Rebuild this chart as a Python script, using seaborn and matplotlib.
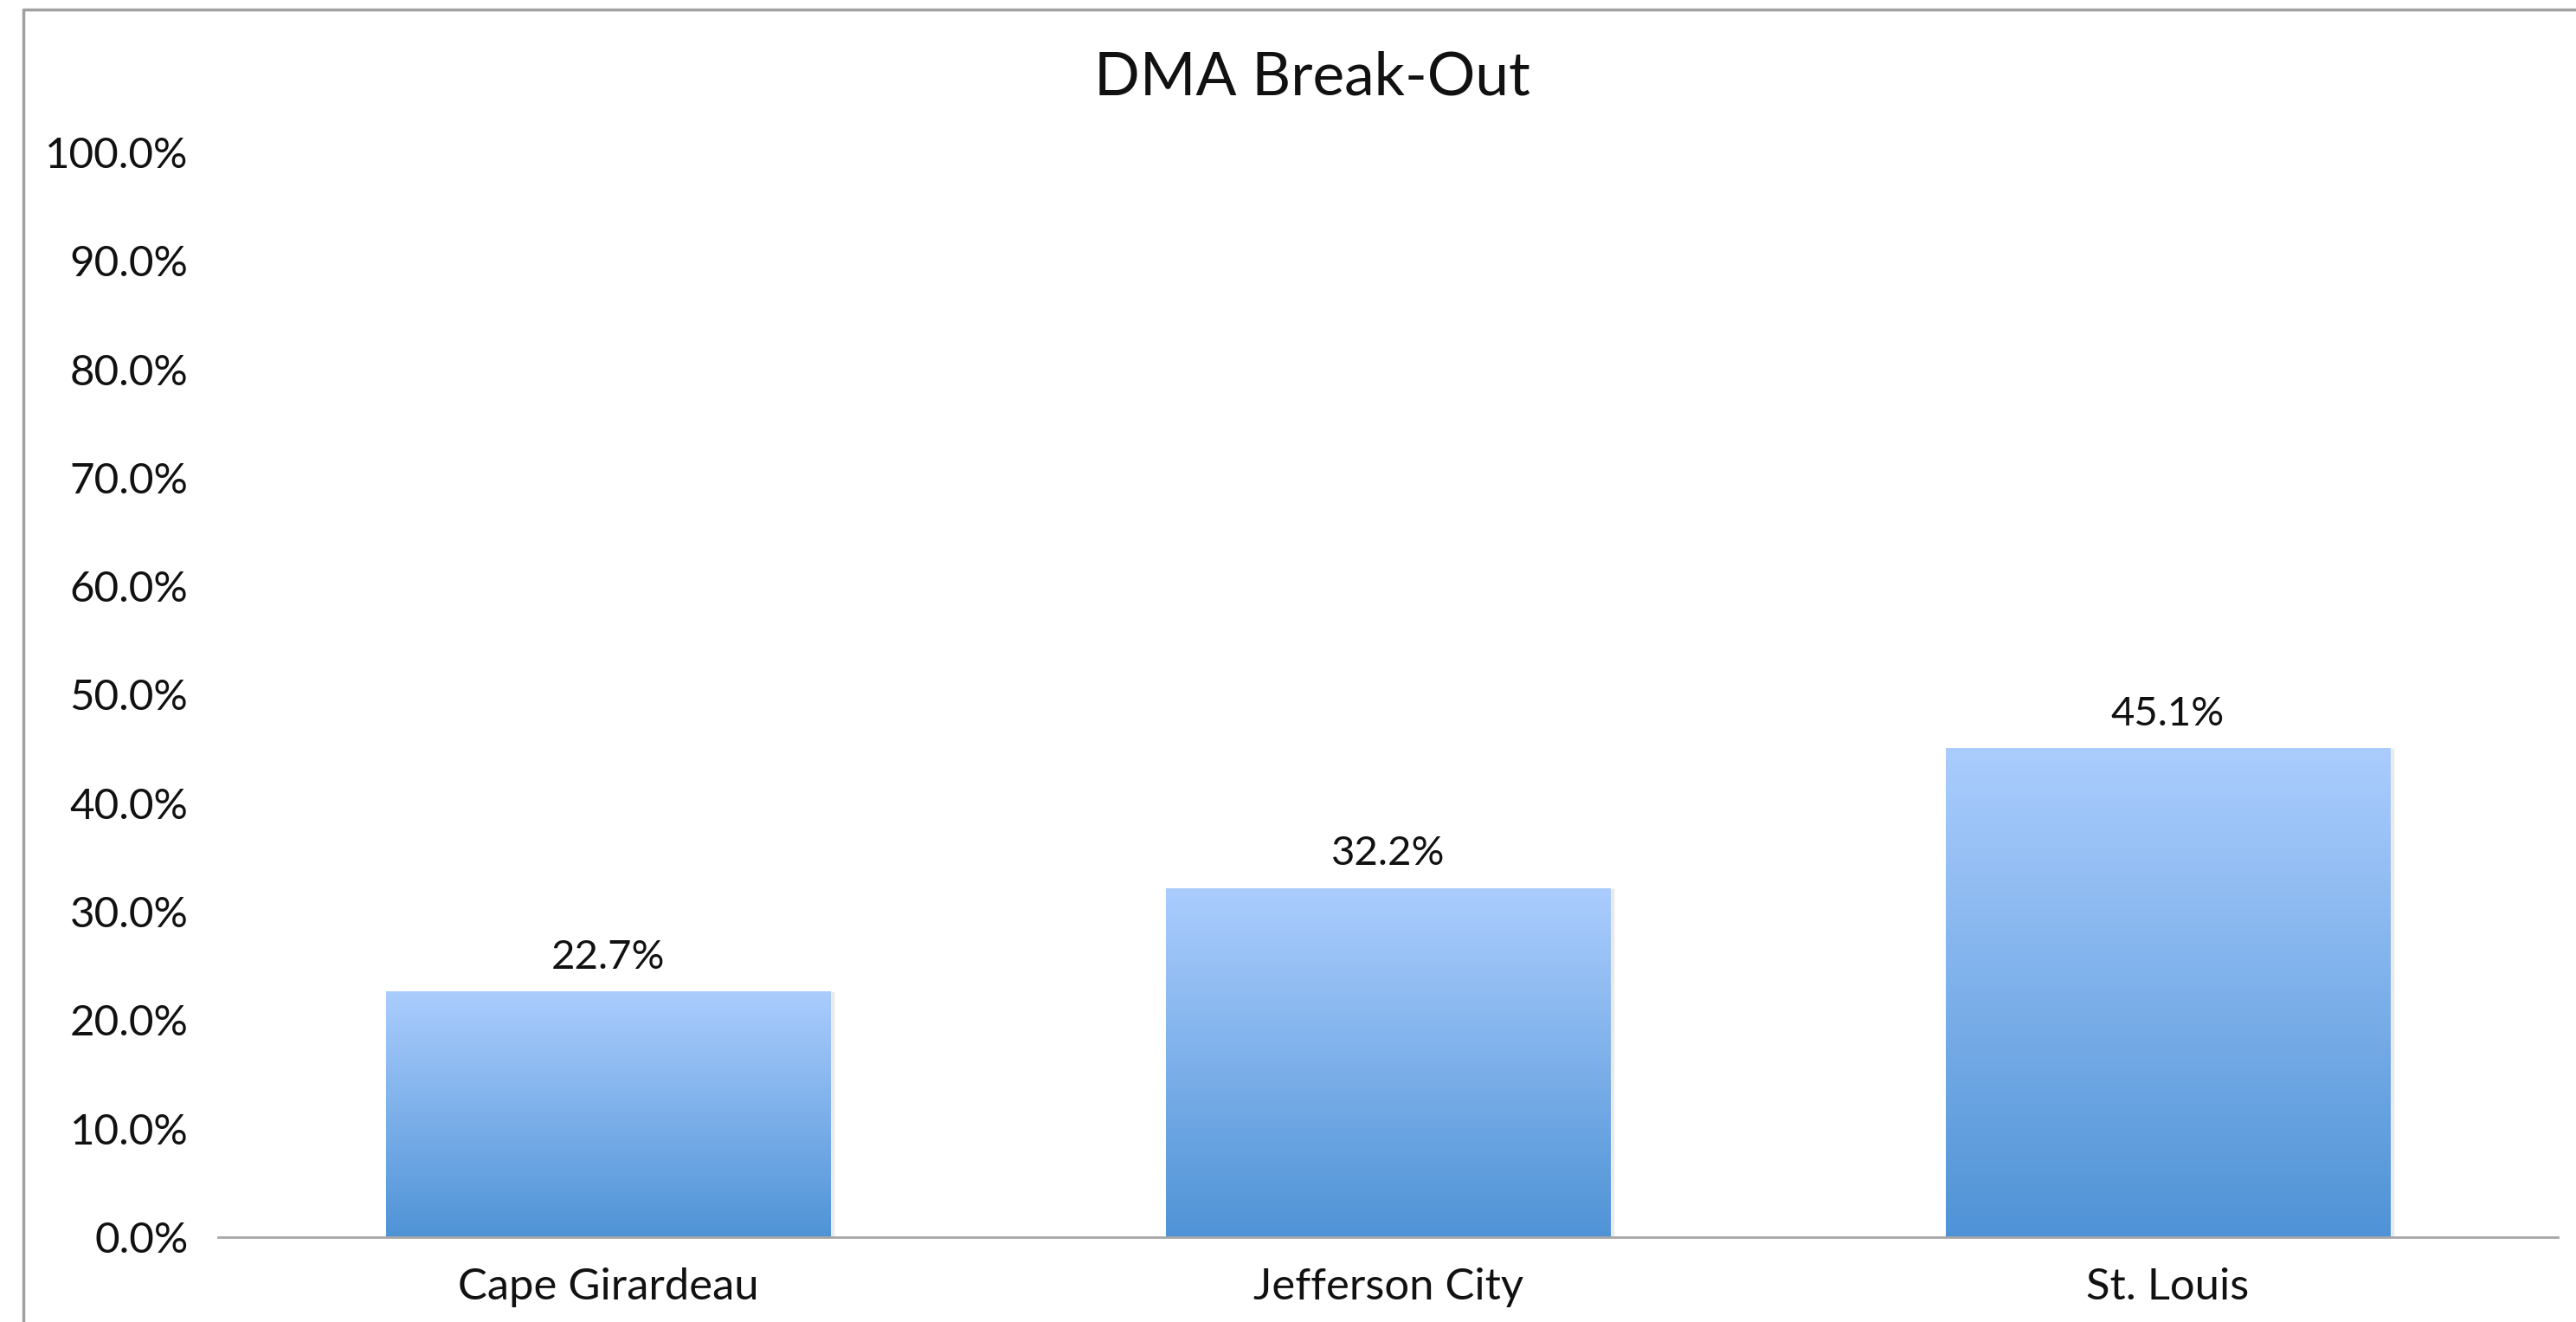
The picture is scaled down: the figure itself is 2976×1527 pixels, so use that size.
import numpy as np
import pandas as pd
import matplotlib
matplotlib.use('Agg')
import matplotlib.pyplot as plt
import seaborn as sns
from matplotlib.colors import LinearSegmentedColormap
from matplotlib.ticker import PercentFormatter
from matplotlib.lines import Line2D

# Chart data
markets = ['Cape Girardeau', 'Jefferson City', 'St. Louis']
shares = [22.7, 32.2, 45.1]
y_ticks = [0, 10, 20, 30, 40, 50, 60, 70, 80, 90, 100]
title = 'DMA Break-Out'

sns.set_theme(style='white')
plt.rcParams['font.family'] = ['Lato', 'DejaVu Sans']

df = pd.DataFrame({'market': markets, 'share': shares})

W, H = 2976, 1527
fig = plt.figure(figsize=(W / 100, H / 100), dpi=100)
ax = fig.add_axes([252 / W, 1 - 1429 / H, (2955 - 252) / W, (1429 - 176) / H])

sns.barplot(data=df, x='market', y='share', width=0.57, color='#7aaee6',
            ax=ax, zorder=2)

# vertical gradient fill on each bar
bar_grad = LinearSegmentedColormap.from_list('bar_grad', ['#4f93d6', '#abcdfe'])
grad = np.linspace(0, 1, 256).reshape(-1, 1)
for bar in ax.patches:
    x0, y0 = bar.get_x(), bar.get_y()
    w, h = bar.get_width(), bar.get_height()
    # faint drop shadow on the right
    ax.bar(x0 + w / 2 + 0.005, h, width=w, bottom=y0, color='#d4d4d4',
           alpha=0.5, zorder=1)
    img = ax.imshow(grad, cmap=bar_grad, origin='lower', aspect='auto',
                    extent=[x0, x0 + w, y0, y0 + h], zorder=3)
    img.set_clip_path(bar)

ax.set_xlim(-0.5, len(markets) - 0.5)
ax.set_ylim(0, 100)
ax.set_yticks(y_ticks)
ax.yaxis.set_major_formatter(PercentFormatter(decimals=1))

ax.bar_label(ax.containers[0], labels=[f'{v:.1f}%' for v in shares],
             padding=13, fontsize=34, color='#111111', zorder=4)

ax.set_xlabel('')
ax.set_ylabel('')
ax.tick_params(axis='y', length=0, pad=25, labelsize=35.5, labelcolor='#111111')
ax.tick_params(axis='x', length=0, pad=25, labelsize=36.5, labelcolor='#111111')

for side in ['top', 'right', 'left']:
    ax.spines[side].set_visible(False)
ax.spines['bottom'].set_color('#a6a6a6')
ax.spines['bottom'].set_linewidth(2)
ax.spines['bottom'].set_zorder(5)

fig.text(1516 / W, 1 - 90 / H, title, ha='center', va='center',
         fontsize=50, color='#111111')

# outer frame (top and left edges only are inside the picture)
fig.add_artist(Line2D([27 / W, 27 / W], [0, 1 - 11 / H], transform=fig.transFigure,
                      color='#a0a0a0', lw=2.5))
fig.add_artist(Line2D([27 / W, 1], [1 - 11 / H, 1 - 11 / H], transform=fig.transFigure,
                      color='#a0a0a0', lw=2.5))

fig.savefig('out.png', dpi=100, facecolor='white')
